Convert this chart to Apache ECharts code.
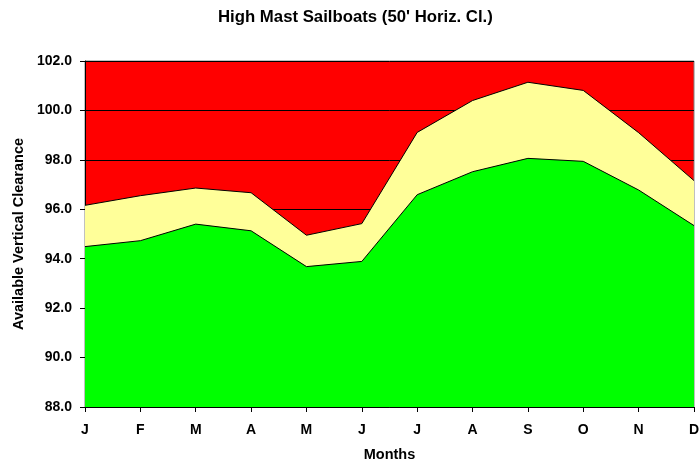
<!DOCTYPE html>
<html>
<head>
<meta charset="utf-8">
<script src="https://cdn.jsdelivr.net/npm/echarts@6/dist/echarts.min.js"></script>
<style>
  html, body { margin: 0; padding: 0; background: #fff; }
  #chart { width: 699px; height: 463px; }
</style>
</head>
<body>
<div id="chart"></div>
<script>
// months on the x axis
var months = ['J', 'F', 'M', 'A', 'M', 'J', 'J', 'A', 'S', 'O', 'N', 'D'];
// upper edge of the yellow band
var upperClearance = [96.16, 96.55, 96.86, 96.67, 94.95, 95.42, 99.11, 100.4, 101.14, 100.81, 99.1, 97.16];
// upper edge of the green area
var lowerClearance = [94.49, 94.73, 95.4, 95.13, 93.68, 93.89, 96.59, 97.52, 98.06, 97.94, 96.78, 95.34];

var myChart = echarts.init(document.getElementById('chart'));
var font = 'Liberation Sans, Arial, sans-serif';

var option = {
  animation: false,
  title: {
    text: "High Mast Sailboats (50' Horiz. Cl.)",
    left: 213,
    top: 4,
    textStyle: { fontFamily: font, fontSize: 16.75, fontWeight: 'bold', color: '#000' }
  },
  grid: {
    left: 85,
    right: 5,
    top: 61,
    bottom: 56,
    outerBoundsMode: 'none',
    show: true,
    backgroundColor: '#FF0000',
    borderColor: '#808080',
    borderWidth: 1
  },
  xAxis: {
    type: 'category',
    data: months,
    boundaryGap: false,
    name: 'Months',
    nameLocation: 'middle',
    nameGap: 40,
    nameTextStyle: { fontFamily: font, fontSize: 14.5, fontWeight: 'bold', color: '#000' },
    axisLine: { lineStyle: { color: '#000', width: 1 } },
    axisTick: { show: true, length: 5, alignWithLabel: true, lineStyle: { color: '#000' } },
    axisLabel: { margin: 16, fontFamily: font, fontSize: 14, fontWeight: 'bold', color: '#000', interval: 0 },
    splitLine: { show: false }
  },
  yAxis: {
    type: 'value',
    min: 88,
    max: 102,
    interval: 2,
    name: 'Available Vertical Clearance',
    nameLocation: 'middle',
    nameRotate: 90,
    nameGap: 56,
    nameTextStyle: { fontFamily: font, fontSize: 14.5, fontWeight: 'bold', color: '#000' },
    axisLine: { show: true, lineStyle: { color: '#000', width: 1 } },
    axisTick: { show: true, length: 5, lineStyle: { color: '#000' } },
    axisLabel: {
      margin: 13,
      fontFamily: font,
      fontSize: 14,
      fontWeight: 'bold',
      color: '#000',
      formatter: function (v) { return v.toFixed(1); }
    },
    splitLine: { show: true, lineStyle: { color: '#000', width: 1 } }
  },
  series: [
    {
      name: 'upper',
      type: 'line',
      data: upperClearance,
      showSymbol: false,
      lineStyle: { color: '#000', width: 1 },
      areaStyle: { color: '#FFFF99', opacity: 1, origin: 'start' },
      z: 3
    },
    {
      name: 'lower',
      type: 'line',
      data: lowerClearance,
      showSymbol: false,
      lineStyle: { color: '#000', width: 1 },
      areaStyle: { color: '#00FF00', opacity: 1, origin: 'start' },
      z: 4
    }
  ]
};

myChart.setOption(option);
</script>
</body>
</html>
